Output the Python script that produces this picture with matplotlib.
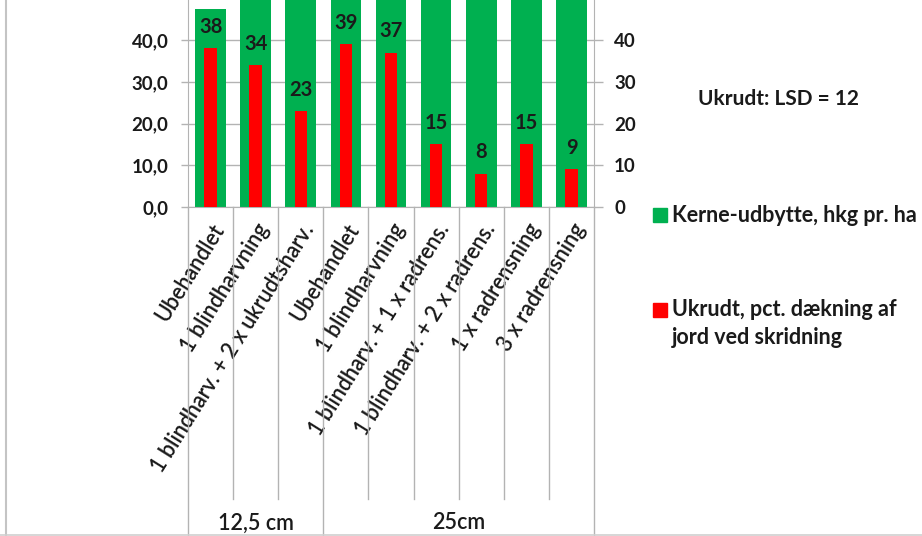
import matplotlib
matplotlib.use("Agg")
import matplotlib.pyplot as plt
import matplotlib.transforms as mtransforms
from matplotlib.patches import Rectangle
from matplotlib.lines import Line2D

# ---- data ----
categories = ["Ubehandlet", "1 blindharvning", "1 blindharv. + 2 x ukrudtsharv.",
              "Ubehandlet", "1 blindharvning", "1 blindharv. + 1 x radrens.",
              "1 blindharv. + 2 x radrens.", "1 x radrensning", "3 x radrensning"]
groups = ["12,5 cm", "25cm"]
group_sizes = [3, 6]
yield_hkg = [47.4, 52.0, 55.0, 53.0, 56.0, 58.0, 59.0, 57.0, 58.5]   # green, clipped at top
weed_pct = [38, 34, 23, 39, 37, 15, 8, 15, 9]                          # red
left_ticks = [0, 10, 20, 30, 40]
left_tick_labels = ["0,0", "10,0", "20,0", "30,0", "40,0"]
right_tick_labels = ["0", "10", "20", "30", "40"]
legend_green = "Kerne-udbytte, hkg pr. ha"
legend_red = ["Ukrudt, pct. dækning af", "jord ved skridning"]
note = "Ukrudt: LSD = 12"

GREEN = "#00B050"
RED = "#FF0000"
GRID = "#B3B3B3"
TXT = "#1a1a1a"
FONT = "Lato"

W, H = 922, 536
fig = plt.figure(figsize=(W / 100, H / 100), dpi=100)
fig.patch.set_facecolor("white")

px_per_unit = 4.175
ax = fig.add_axes([188 / W, (H - 207) / H, 406 / W, 60 * px_per_unit / H])
ax2 = ax.twinx()

x = list(range(len(categories)))
ax.bar(x, yield_hkg, width=0.68, color=GREEN, zorder=2, label=legend_green)
red = ax2.bar(x, weed_pct, width=0.275, color=RED, zorder=3, label=" ".join(legend_red))
ax2.bar_label(red, labels=[str(v) for v in weed_pct], padding=8,
              fontsize=14.5, fontweight="bold", color=TXT, family=FONT)

for a in (ax, ax2):
    a.set_ylim(0, 60)
    a.set_xlim(-0.5, len(categories) - 0.5)
    a.set_yticks(left_ticks)

ax.set_yticklabels(left_tick_labels)
ax2.set_yticklabels(right_tick_labels)
ax.set_axisbelow(True)
ax.yaxis.grid(True, color=GRID, linewidth=1.0)
ax.tick_params(axis="y", direction="out", length=5, width=1, color=GRID, pad=9,
               labelsize=13.5, labelcolor=TXT)
ax2.tick_params(axis="y", direction="out", length=6.5, width=1, color=GRID, pad=8,
                labelsize=13.5, labelcolor=TXT)
for lab in ax.get_yticklabels() + ax2.get_yticklabels():
    lab.set_fontweight("bold")
    lab.set_family(FONT)

ax.spines["top"].set_visible(False)
ax2.spines["top"].set_visible(False)
for s in ("left", "bottom"):
    ax2.spines[s].set_visible(False)
ax.spines["right"].set_visible(False)
for s in ("left", "bottom"):
    ax.spines[s].set_color(GRID)
ax2.spines["right"].set_color(GRID)

# category labels
ax.set_xticks(x)
ax.tick_params(axis="x", length=0, pad=4)
ax.set_xticklabels(categories, rotation=58, ha="right", va="center",
                   rotation_mode="anchor", fontsize=15.5, fontweight=600,
                   color=TXT, family=FONT)
off = mtransforms.ScaledTranslation(9 / 100, -13 / 100, fig.dpi_scale_trans)
for lab in ax.get_xticklabels():
    lab.set_transform(lab.get_transform() + off)

# category separators (multi-level axis)
bt = mtransforms.blended_transform_factory(ax.transData, ax.transAxes)
short_bottom = -(499 - 207) / (60 * px_per_unit)
long_bottom = -(540 - 207) / (60 * px_per_unit)
group_edges = [-0.5]
for g in group_sizes:
    group_edges.append(group_edges[-1] + g)
for i in range(len(categories) + 1):
    b = i - 0.5
    yb = long_bottom if b in group_edges else short_bottom
    ax.plot([b, b], [0, yb], transform=bt, color=GRID, lw=1.0, clip_on=False, zorder=1)

# group labels
for gi, name in enumerate(groups):
    cx = (group_edges[gi] + group_edges[gi + 1]) / 2
    ax.text(cx, -(523 - 207) / (60 * px_per_unit), name, transform=bt,
            ha="center", va="center", fontsize=15.5, fontweight=600,
            color=TXT, family=FONT)

# legend (manual, chart-style)
sq = 14
fig.patches.append(Rectangle((653 / W, (H - 222) / H), sq / W, sq / H,
                             transform=fig.transFigure, color=GREEN))
fig.text(672 / W, (H - 215) / H, legend_green, ha="left", va="center",
         fontsize=15.5, fontweight="bold", color=TXT, family=FONT)
fig.patches.append(Rectangle((653 / W, (H - 317) / H), sq / W, sq / H,
                             transform=fig.transFigure, color=RED))
fig.text(672 / W, (H - 310) / H, legend_red[0], ha="left", va="center",
         fontsize=15.5, fontweight="bold", color=TXT, family=FONT)
fig.text(672 / W, (H - 338) / H, legend_red[1], ha="left", va="center",
         fontsize=15.5, fontweight="bold", color=TXT, family=FONT)

fig.text(698 / W, (H - 99) / H, note, ha="left", va="center",
         fontsize=15, fontweight="bold", color=TXT, family=FONT)

# chart-area border
fig.lines.append(Line2D([5.5 / W, 5.5 / W], [0, 1], transform=fig.transFigure,
                        color="#C4C4C4", lw=1.5))
fig.lines.append(Line2D([0, 1], [0.8 / H, 0.8 / H], transform=fig.transFigure,
                        color="#D0D0D0", lw=1.2))

fig.savefig("out.png", dpi=100)
